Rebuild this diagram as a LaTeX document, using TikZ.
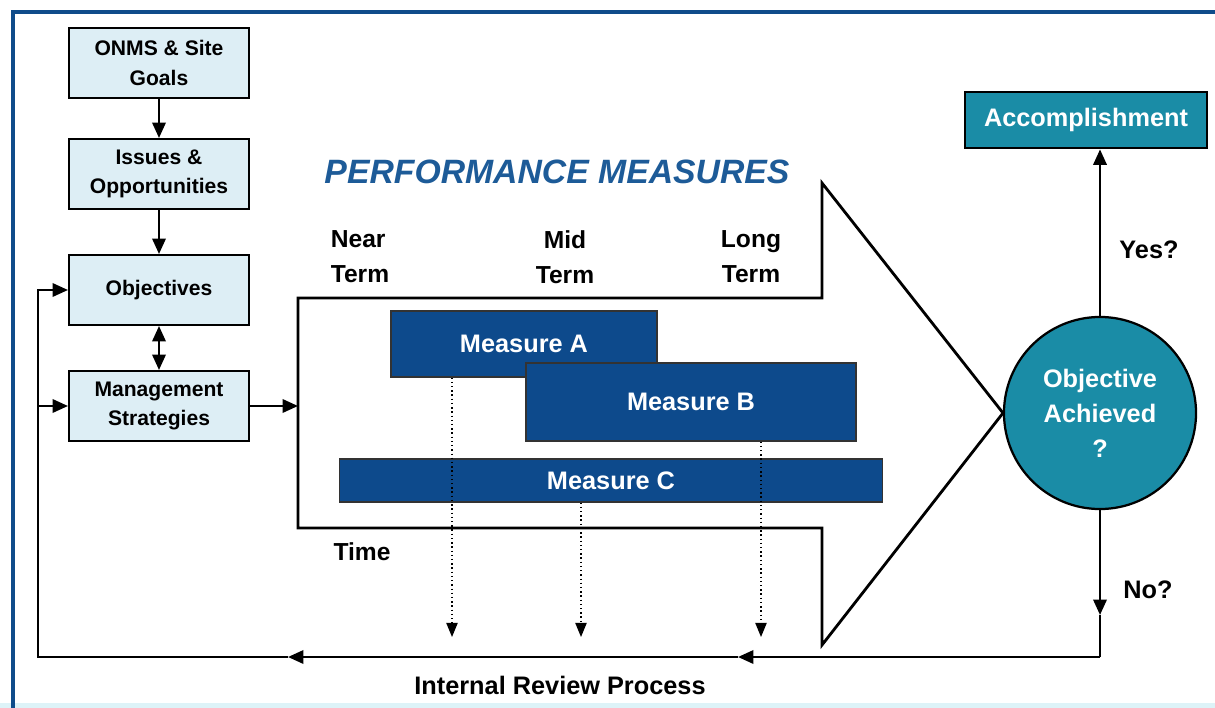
\documentclass[tikz,border=0pt]{standalone}
\usepackage{fontspec}
\setmainfont{Liberation Sans}
\usetikzlibrary{arrows.meta}

\definecolor{framblue}{HTML}{0F4C8A}
\definecolor{boxfill}{HTML}{DDEEF5}
\definecolor{measblue}{HTML}{0D4A8C}
\definecolor{achteal}{HTML}{1A8CA6}
\definecolor{titleblue}{HTML}{1D5B98}
\definecolor{stripcol}{HTML}{DDF3F8}

\tikzset{
    goalbox/.style={draw=black, line width=1.4pt, fill=boxfill, minimum width=4.5cm, minimum height=1.75cm,
        align=center, font=\bfseries\fontsize{15}{21}\selectfont},
    measbox/.style={draw=black!80, line width=0.8pt, fill=measblue, text=white, font=\bfseries\fontsize{18}{22}\selectfont},
    lbl/.style={font=\bfseries\fontsize{17.5}{25}\selectfont, align=center},
    conn/.style={line width=1.7pt, -{Triangle[length=11pt, width=9.5pt]}},
    bothconn/.style={line width=1.7pt, {Triangle[length=11pt, width=9.5pt]}-{Triangle[length=11pt, width=9.5pt]}},
    plainline/.style={line width=1.7pt},
    dotarr/.style={line width=1pt, dotted, -{Triangle[length=10pt, width=8pt]}}
}

\begin{document}
\begin{tikzpicture}[x=0.025cm, y=-0.025cm]
        \useasboundingbox (0,0) rectangle (1215,708);
        \fill[stripcol] (0,703) rectangle (1215,708);
        \draw[framblue, line width=3.5pt] (13,708) -- (13,12) -- (1215,12);

        \node[goalbox] (goals) at (159,63) {ONMS \& Site\\Goals};
        \node[goalbox] (issues) at (159,174) {Issues \&\\Opportunities};
        \node[goalbox] (objectives) at (159,290) {Objectives};
        \node[goalbox] (strategies) at (159,406) {Management\\Strategies};

        \draw[line width=2pt, line join=miter] (298,298) -- (822,298) -- (822,183) -- (1003,413)
            -- (822,645) -- (822,528) -- (298,528) -- cycle;

        \node[measbox, minimum width=6.65cm, minimum height=1.65cm] (measA) at (524,344) {Measure A};
        \node[measbox, minimum width=8.25cm, minimum height=1.95cm] (measB) at (691,402) {Measure B};
        \node[measbox, minimum width=13.55cm, minimum height=1.075cm] (measC) at (611,480.5) {Measure C};

        \node[circle, draw=black, line width=1.6pt, fill=achteal, minimum size=4.8cm, text=white,
            align=center, font=\bfseries\fontsize{18}{25}\selectfont] (achieved) at (1100,413) {Objective\\Achieved\\?};
        \node[draw=black, line width=2pt, fill=achteal, minimum width=6.05cm, minimum height=1.4cm, text=white,
            font=\bfseries\fontsize{18}{22}\selectfont] (accomp) at (1086,120) {Accomplishment};

        \node[font=\bfseries\itshape\fontsize{24}{28}\selectfont, text=titleblue] (pmtitle) at (557,172) {PERFORMANCE MEASURES};
        \node[lbl, align=left] (near) at (360,257) {Near\\Term};
        \node[lbl] (mid) at (565,257) {Mid\\Term};
        \node[lbl] (long) at (751,257) {Long\\Term};
        \node[lbl] (time) at (362,552) {Time};
        \node[lbl, font=\bfseries\fontsize{18}{22}\selectfont] (review) at (560,685) {Internal Review Process};
        \node[lbl, font=\bfseries\fontsize{18}{22}\selectfont] (yes) at (1149,250) {Yes?};
        \node[lbl, font=\bfseries\fontsize{18}{22}\selectfont] (no) at (1148,590) {No?};

        \coordinate (pmin) at (298,406);
        \coordinate (noTip) at (1100,615);
        \coordinate (loopBR) at (1100,657);
        \coordinate (revA) at (738,657);
        \coordinate (revB) at (288,657);
        \coordinate (loopBL) at (38,657);
        \coordinate (loopS) at (38,406);
        \coordinate (dA) at (452,637);
        \coordinate (dB) at (581,637);
        \coordinate (dC) at (761,637);

        \draw[conn] (goals) -- (issues);
        \draw[conn] (issues) -- (objectives);
        \draw[bothconn] (objectives) -- (strategies);
        \draw[conn] (strategies) -- (pmin);
        \draw[conn] (achieved) -- (achieved |- accomp.south);

        \draw[conn] (achieved) -- (noTip);
        \draw[plainline] (noTip) -- (loopBR);
        \draw[conn] (loopBR) -- (revA);
        \draw[conn] (revA) -- (revB);
        \draw[plainline] (revB) -- (loopBL) -- (loopS);
        \draw[conn] (loopBL) |- (objectives.west);
        \draw[conn] (loopS) -- (strategies.west);

        \draw[dotarr] (measA.south -| dA) -- (dA);
        \draw[dotarr] (measC.south -| dB) -- (dB);
        \draw[dotarr] (measB.south -| dC) -- (dC);
        \end{tikzpicture}
\end{document}
